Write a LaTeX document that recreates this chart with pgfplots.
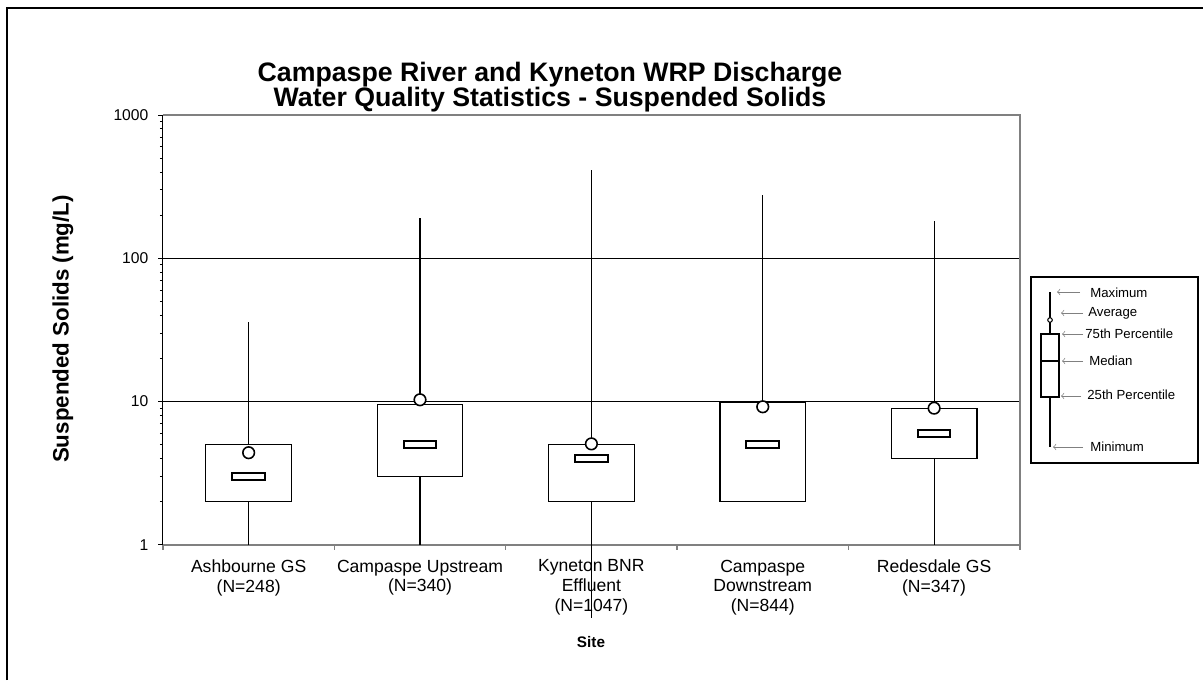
\documentclass[border=0pt]{standalone}
\usepackage{fontspec}
\setmainfont{Liberation Sans}
\usepackage{pgfplots}
\pgfplotsset{compat=1.18}
\usepgfplotslibrary{statistics}

% median drawn as a small open bar
\pgfdeclareplotmark{medbar}{%
  \pgfpathrectangle{\pgfqpoint{-9.3pt}{-2pt}}{\pgfqpoint{18.6pt}{4pt}}%
  \pgfusepathqfillstroke}

\pgfplotstableread{
pos med avg
1 3 4.4
2 5 10.3
3 4 5.07
4 5 9.2
5 6 9.0
}\centres

\begin{document}
\begin{tikzpicture}[x=0.02cm,y=-0.02cm]
\useasboundingbox (0,0) rectangle (1203,680);
\draw[line width=0.8pt] (7,680) -- (7,8) -- (1203,8);

\begin{axis}[
  at={(3.26cm,-10.9cm)}, anchor=south west,
  scale only axis, width=17.14cm, height=8.6cm,
  ymode=log, ymin=1, ymax=1000,
  xmin=0.5, xmax=5.5,
  clip=false,
  axis lines=left,
  axis line style={-},
  x axis line style={draw=gray, line width=1.2pt},
  y axis line style={draw=black, line width=0.6pt},
  tick align=outside,
  major tick length=2.8pt, minor tick length=1.7pt,
  xtick={0.5,1.5,...,5.5}, xticklabels={},
  x tick style={draw=gray, line width=0.9pt},
  extra x ticks={1,2,3,4,5},
  extra x tick labels={{Ashbourne GS\\(N=248)},{Campaspe Upstream\\(N=340)},{Kyneton BNR\\Effluent\\(N=1047)},{Campaspe\\Downstream\\(N=844)},{Redesdale GS\\(N=347)}},
  extra x tick style={major tick length=0pt, grid=none},
  xticklabel style={font=\fontsize{10}{11.2}\selectfont, align=center, anchor=north, yshift=-5pt},
  ytick={1,10,100,1000},
  log ticks with fixed point,
  /pgf/number format/assume math mode=true,
  /pgf/number format/1000 sep={},
  yticklabel style={font=\fontsize{8.9}{10}\selectfont, xshift=-2pt},
  y tick style={draw=black, line width=0.5pt},
  ymajorgrids, y grid style={black, line width=0.6pt},
  boxplot/draw direction=y,
  boxplot/box extend=0.5,
  boxplot/whisker extend=0,
  boxplot/draw/median/.code={},
  boxplot/every box/.style={fill=white, draw=black},
  after end axis/.code={
    \draw[gray, line width=1.2pt] (rel axis cs:0,1) -- (rel axis cs:1,1) -- (rel axis cs:1,0);
  },
]
\addplot[black, line width=0.7pt, boxplot prepared={draw position=1,
  lower whisker=1, lower quartile=2, median=3, upper quartile=5, upper whisker=36}] coordinates {};
\addplot[black, line width=0.7pt, boxplot prepared={draw position=2,
  lower whisker=1, lower quartile=3, median=5, upper quartile=9.6, upper whisker=190}] coordinates {};
\addplot[black, line width=0.7pt, boxplot prepared={draw position=3,
  lower whisker=0.31, lower quartile=2, median=4, upper quartile=5, upper whisker=414}] coordinates {};
\addplot[black, line width=0.7pt, boxplot prepared={draw position=4,
  lower whisker=2, lower quartile=2, median=5, upper quartile=9.8, upper whisker=277}] coordinates {};
\addplot[black, line width=0.7pt, boxplot prepared={draw position=5,
  lower whisker=1, lower quartile=4, median=6, upper quartile=8.9, upper whisker=182}] coordinates {};

\addplot[only marks, mark=medbar, mark options={fill=white, draw=black, line width=1.1pt}]
  table[x=pos, y=med] \centres;
\addplot[only marks, mark=*, mark size=3.3pt, mark options={fill=white, draw=black, line width=0.9pt}]
  table[x=pos, y=avg] \centres;
\end{axis}

% title and axis titles
\node[font=\fontsize{15.2}{16}\selectfont\bfseries] at (550,75) {Campaspe River and Kyneton WRP Discharge};
\node[font=\fontsize{15.2}{16}\selectfont\bfseries] at (550,100) {Water Quality Statistics - Suspended Solids};
\node[font=\fontsize{12.7}{14}\selectfont\bfseries, rotate=90] at (63,329) {Suspended Solids (mg/L)};
\node[font=\fontsize{8.7}{10}\selectfont\bfseries] at (591,642) {Site};

% key
\draw[line width=0.9pt] (1031,277) rectangle (1198,463);
\draw[line width=1pt] (1050,292) -- (1050,334) (1050,397) -- (1050,447);
\draw[line width=1pt, fill=white] (1041,334) rectangle (1059,397);
\draw[line width=1.3pt] (1041,361) -- (1059,361);
\draw[line width=0.6pt, fill=white] (1050,320) circle (1.3pt);
\begin{scope}[gray, line width=0.4pt, ->]
\draw (1080,292) -- (1057,292);
\draw (1083,313) -- (1061,313);
\draw (1083,334) -- (1062,334);
\draw (1083,361) -- (1062,361);
\draw (1081,396) -- (1061,396);
\draw (1083,447) -- (1053,447);
\end{scope}
\begin{scope}[font=\fontsize{7.5}{9}\selectfont, inner sep=0pt]
\node[anchor=west] at (1090,293) {Maximum};
\node[anchor=west] at (1088,313) {Average};
\node[anchor=west] at (1085,334) {75th Percentile};
\node[anchor=west] at (1089,361) {Median};
\node[anchor=west] at (1087,395) {25th Percentile};
\node[anchor=west] at (1090,447) {Minimum};
\end{scope}
\end{tikzpicture}
\end{document}
